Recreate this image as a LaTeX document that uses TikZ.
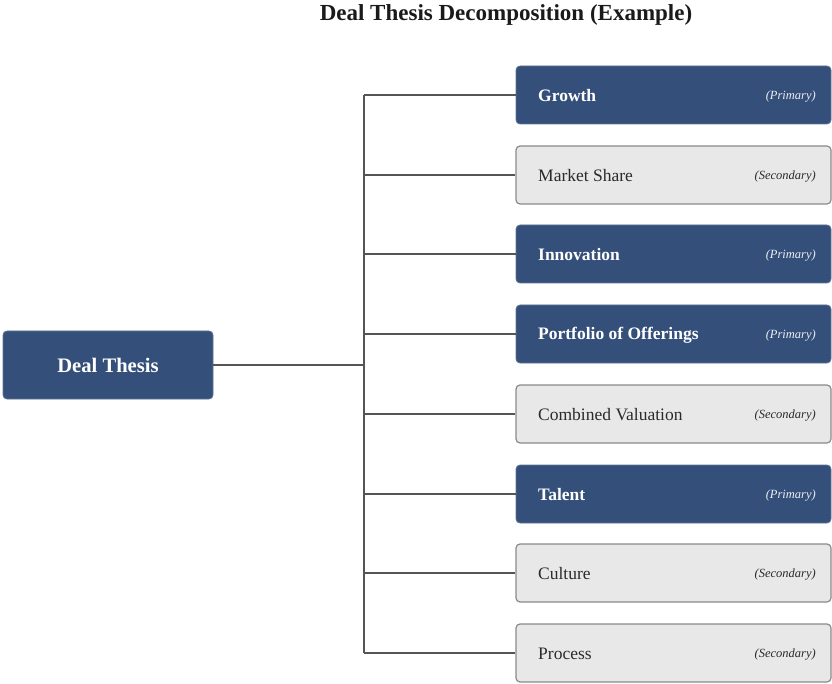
\documentclass[tikz,border=0pt]{standalone}
\usepackage{fontspec}
\setmainfont{Liberation Serif}
\definecolor{navy}{HTML}{34507A}
\definecolor{lightbox}{HTML}{E8E8E8}
\definecolor{boxline}{HTML}{8A8A8A}
\definecolor{conn}{HTML}{555555}
\definecolor{titletext}{HTML}{1A1A1A}
\definecolor{darktext}{HTML}{2A2A2A}
\begin{document}
\begin{tikzpicture}[x=1pt,y=-1pt,
  primbox/.style={draw=navy!80!white, line width=0.8pt, fill=navy, rounded corners=4pt, minimum width=315pt, minimum height=58pt, inner sep=0pt},
  secbox/.style={draw=boxline, line width=1.2pt, fill=lightbox, rounded corners=4pt, minimum width=315pt, minimum height=58pt, inner sep=0pt},
  primlabel/.style={anchor=west, inner sep=0pt, text=white, font=\fontsize{17.5}{21}\selectfont\bfseries},
  seclabel/.style={anchor=west, inner sep=0pt, text=darktext, font=\fontsize{17.5}{21}\selectfont},
  primtag/.style={anchor=east, inner sep=0pt, text=white!90!navy, font=\fontsize{12.5}{15}\selectfont\itshape},
  sectag/.style={anchor=east, inner sep=0pt, text=darktext, font=\fontsize{12.5}{15}\selectfont\itshape},
  link/.style={draw=conn, line width=1.3pt}]
\useasboundingbox (0,0) rectangle (832,684);
\node[font=\fontsize{23}{27}\selectfont\bfseries, text=titletext] (title) at (506,15) {Deal Thesis Decomposition (Example)};
\node[primbox, minimum width=210pt, minimum height=68pt] (root) at (108,365) {};
\node[text=white, font=\fontsize{20.6}{24}\selectfont\bfseries] (rootlabel) at (root.center) {Deal Thesis};
\coordinate (trunk) at (364,365);
\coordinate (ttop) at (364,95);
\coordinate (tbot) at (364,653);
\foreach \name/\y/\kind/\lab/\tag in {
  b1/95/prim/Growth/Primary,
  b2/175/sec/Market Share/Secondary,
  b3/254/prim/Innovation/Primary,
  b4/334/prim/Portfolio of Offerings/Primary,
  b5/414/sec/Combined Valuation/Secondary,
  b6/494/prim/Talent/Primary,
  b7/573/sec/Culture/Secondary,
  b8/653/sec/Process/Secondary}{
  \node[\kind box] (\name) at (673.5,\y) {};
  \node[\kind label] (\name l) at (538,\y+1) {\lab};
  \node[\kind tag] (\name t) at (816,\y+2) {(\tag)};
  \coordinate (\name j) at (364,\y);
  \draw[link] (\name j) -- (\name.west);
}
\draw[link] (ttop) -- (tbot);
\draw[link] (root.east) -- (trunk);
\end{tikzpicture}
\end{document}
